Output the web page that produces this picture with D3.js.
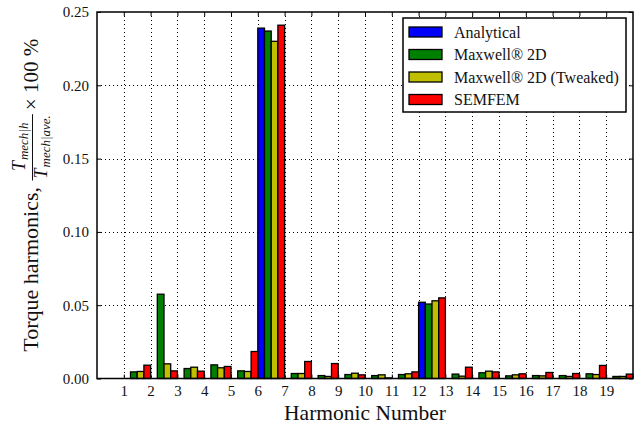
<!DOCTYPE html>
<html>
<head>
<meta charset="utf-8">
<script src="https://cdn.jsdelivr.net/npm/d3@7"></script>
<style>
  html, body { margin: 0; padding: 0; background: #fff; }
  svg { display: block; }
  svg text { font-family: "Liberation Serif", "DejaVu Serif", serif; }
</style>
</head>
<body>
<svg id="chart" width="642" height="425"></svg>
<script>
// Torque harmonic content (% of average torque) per harmonic number
const harmonics = [1, 2, 3, 4, 5, 6, 7, 8, 9, 10, 11, 12, 13, 14, 15, 16, 17, 18, 19];
const analytical = [0, 0, 0, 0, 0, 0.239, 0, 0, 0, 0, 0, 0.052, 0, 0, 0, 0, 0, 0, 0];
const maxwell2D = [0.0045, 0.0575, 0.0068, 0.0093, 0.0052, 0.237, 0.0034, 0.0020, 0.0027, 0.0020,
                   0.0027, 0.0508, 0.0030, 0.0039, 0.0018, 0.0020, 0.0020, 0.0032, 0.0014];
const maxwell2DTweaked = [0.0048, 0.0100, 0.0077, 0.0073, 0.0048, 0.230, 0.0034, 0.0014, 0.0036, 0.0025,
                          0.0032, 0.0530, 0.0016, 0.0050, 0.0025, 0.0018, 0.0014, 0.0027, 0.0014];
const semfem = [0.0091, 0.0052, 0.0050, 0.0082, 0.0184, 0.241, 0.0116, 0.0102, 0.0025, 0.0004,
                0.0045, 0.0550, 0.0077, 0.0045, 0.0032, 0.0041, 0.0034, 0.0089, 0.0030];
const seriesNames = ["Analytical", "Maxwell\u00AE 2D", "Maxwell\u00AE 2D (Tweaked)", "SEMFEM"];
const seriesColors = ["#0000ff", "#008000", "#bfbf00", "#ff0000"];
const yTicks = [0, 0.05, 0.10, 0.15, 0.20, 0.25];

const seriesValues = [analytical, maxwell2D, maxwell2DTweaked, semfem];

const svg = d3.select("#chart");
const plotL = 97, plotR = 633, plotT = 12, plotB = 378.5;

const x = d3.scaleLinear().domain([0, 20]).range([plotL, plotR]);
const y = d3.scaleLinear().domain([0, 0.25]).range([plotB, plotT]);
const barW = 0.25;

// grid
const grid = svg.append("g").attr("stroke", "#000").attr("stroke-width", 1)
  .attr("stroke-dasharray", "1,3").attr("fill", "none");
harmonics.forEach(h => {
  grid.append("line").attr("x1", Math.round(x(h)) + 0.5).attr("x2", Math.round(x(h)) + 0.5)
    .attr("y1", plotT).attr("y2", plotB);
});
yTicks.slice(1, -1).forEach(v => {
  grid.append("line").attr("y1", Math.round(y(v)) + 0.5).attr("y2", Math.round(y(v)) + 0.5)
    .attr("x1", plotL).attr("x2", plotR);
});

// bars: each harmonic group spans [h, h+1], one quarter per series
const bars = svg.append("g");
seriesValues.forEach((vals, si) => {
  bars.selectAll(null).data(harmonics.map((h, i) => ({ h, v: vals[i] })))
    .enter().append("rect")
    .attr("x", d => x(d.h + si * barW))
    .attr("width", x(barW) - x(0))
    .attr("y", d => y(d.v))
    .attr("height", d => y(0) - y(d.v))
    .attr("fill", seriesColors[si])
    .attr("stroke", "#000")
    .attr("stroke-width", 1.3);
});

// axes (ticks pointing inward on all four sides)
const serif = "'Liberation Serif', 'DejaVu Serif', serif";
const axL = svg.append("g").attr("transform", `translate(${plotL},0)`)
  .call(d3.axisLeft(y).tickValues(yTicks).tickFormat(d3.format(".2f")).tickSize(-4).tickPadding(8));
const axR = svg.append("g").attr("transform", `translate(${plotR},0)`)
  .call(d3.axisRight(y).tickValues(yTicks).tickFormat("").tickSize(-4));
const axB = svg.append("g").attr("transform", `translate(0,${plotB})`)
  .call(d3.axisBottom(x).tickValues(harmonics).tickFormat(d3.format("d")).tickSize(-4).tickPadding(7));
const axT = svg.append("g").attr("transform", `translate(0,${plotT})`)
  .call(d3.axisTop(x).tickValues(harmonics).tickFormat("").tickSize(-4));
[axL, axR, axB, axT].forEach(a => {
  a.attr("font-family", serif).attr("font-size", 15);
  a.select(".domain").remove();
  a.selectAll(".tick line").attr("stroke", "#000").attr("stroke-width", 1);
  a.selectAll(".tick text").attr("fill", "#111");
});

// frame
svg.append("rect").attr("x", plotL).attr("y", plotT).attr("width", plotR - plotL).attr("height", plotB - plotT)
  .attr("fill", "none").attr("stroke", "#000").attr("stroke-width", 1.5);

// x label
svg.append("text").attr("x", (plotL + plotR) / 2).attr("y", 420).attr("text-anchor", "middle")
  .attr("font-size", 21.5).attr("fill", "#111").text("Harmonic Number");

// y label with fraction
const yl = svg.append("g");
const main = yl.append("text").attr("x", 0).attr("y", 0).attr("font-size", 22).attr("fill", "#111")
  .text("Torque harmonics,\u00A0");
const mainW = main.node().getComputedTextLength() + 1;
function fracText(yPos, sub) {
  const t = yl.append("text").attr("y", yPos).attr("fill", "#111").style("font-style", "italic");
  t.append("tspan").attr("font-size", 18).text("T");
  t.append("tspan").attr("font-size", 13).attr("dy", 3).attr("dx", 1).text(sub);
  return t;
}
const num = fracText(-13, "mech|h");
const den = fracText(9, "mech|ave.");
const nW = num.node().getComputedTextLength(), dW = den.node().getComputedTextLength();
const fW = Math.max(nW, dW) + 4;
num.attr("x", mainW + (fW - nW) / 2);
den.attr("x", mainW + (fW - dW) / 2);
yl.append("line").attr("x1", mainW).attr("x2", mainW + fW).attr("y1", -5.5).attr("y2", -5.5)
  .attr("stroke", "#111").attr("stroke-width", 1);
const tail = yl.append("text").attr("x", mainW + fW + 4).attr("y", 0).attr("font-size", 21).attr("fill", "#111")
  .text("\u00D7 100 %");
const totalW = mainW + fW + 4 + tail.node().getComputedTextLength();
yl.attr("transform", `translate(38,${(plotT + plotB) / 2 + totalW / 2}) rotate(-90)`);

// legend
const lg = svg.append("g").attr("transform", "translate(403,18)");
lg.append("rect").attr("width", 223).attr("height", 94).attr("fill", "#fff")
  .attr("stroke", "#000").attr("stroke-width", 1.5);
seriesNames.forEach((name, i) => {
  const cy = 14 + i * 22.5;
  lg.append("rect").attr("x", 6).attr("y", cy - 5).attr("width", 33).attr("height", 10)
    .attr("fill", seriesColors[i]).attr("stroke", "#000").attr("stroke-width", 1.3);
  lg.append("text").attr("x", 51).attr("y", cy + 5.5).attr("font-size", 16).attr("fill", "#111").text(name);
});
</script>
</body>
</html>
